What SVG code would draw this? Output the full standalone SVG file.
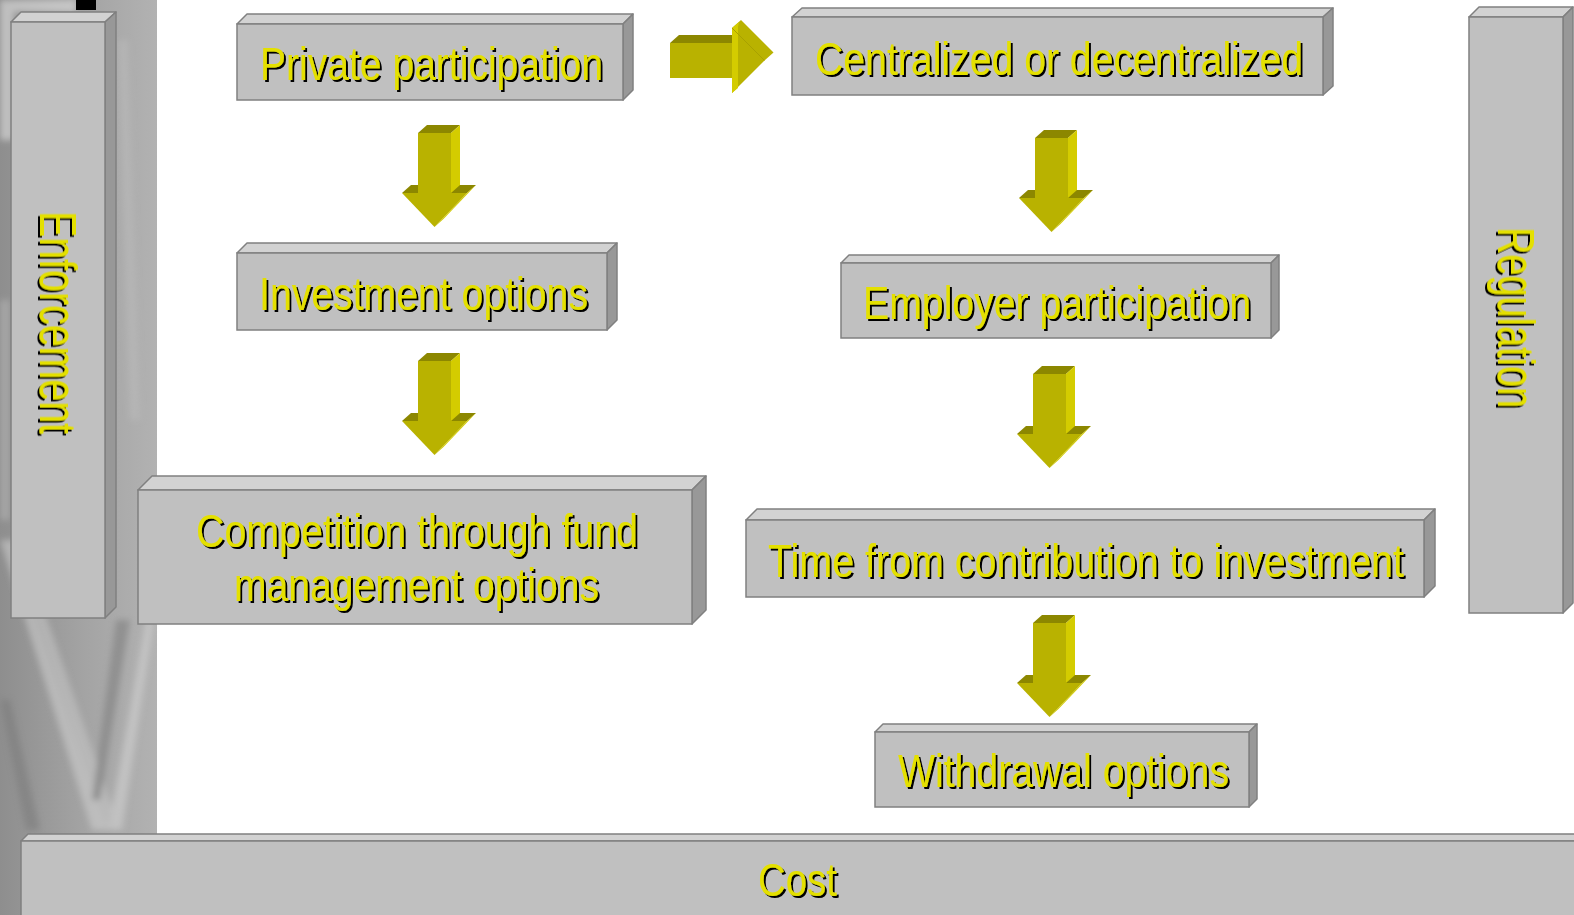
<svg xmlns="http://www.w3.org/2000/svg" width="1574" height="915" viewBox="0 0 1574 915">
  <style>
    .front { fill: #c0c0c0; stroke: #808080; stroke-width: 1.5; }
    .top { fill: #d2d2d2; stroke: #808080; stroke-width: 1.5; stroke-linejoin: round; }
    .side { fill: #989898; stroke: #808080; stroke-width: 1.5; stroke-linejoin: round; }
    .label { font-family: "Liberation Sans", Arial, sans-serif; font-size: 46px; fill: #e4e000; filter: url(#shadow); }
    .vlabel { font-family: "Liberation Sans", Arial, sans-serif; font-size: 51px; fill: #e4e000; filter: url(#shadow); }
    .a-front { fill: #b9b200; }
    .a-light { fill: #d4cc00; }
    .a-dark { fill: #8c8700; }
  </style>
  <defs>
    <filter id="shadow" x="-10%" y="-30%" width="120%" height="160%">
      <feDropShadow dx="2" dy="2" stdDeviation="0.5" flood-color="#000" flood-opacity="1"/>
    </filter>
    <filter id="soft" x="-20%" y="-20%" width="140%" height="140%">
      <feGaussianBlur stdDeviation="3"/>
    </filter>
    <linearGradient id="strip" x1="0" y1="0" x2="1" y2="0">
      <stop offset="0" stop-color="#8e8e8e"/>
      <stop offset="0.55" stop-color="#a4a4a4"/>
      <stop offset="1" stop-color="#b2b2b2"/>
    </linearGradient>
    <!-- down-pointing block arrow, origin at the shaft's top-left back corner -->
    <g id="down">
      <polygon class="a-dark" points="-16,68 -7,60 58,60 49,68"/>
      <polygon class="a-dark" points="0,8 9,0 42,0 33,8"/>
      <polygon class="a-light" points="33,8 42,0 42,60 33,68"/>
      <rect class="a-front" x="0" y="8" width="33" height="60"/>
      <polygon class="a-light" points="49,68 58,60 25.5,94 16.5,102"/>
      <polygon class="a-front" points="-16,68 49,68 16.5,102"/>
    </g>
  </defs>

  <rect width="1574" height="915" fill="#ffffff"/>

  <!-- textured side strip -->
  <g id="backdrop">
    <rect x="0" y="0" width="157" height="915" fill="url(#strip)"/>
    <g filter="url(#soft)" opacity="0.55">
      <polygon points="0,0 76,0 76,12 14,12 14,140 0,140" fill="#e6e6e6"/>
      <polygon points="0,540 18,540 112,830 92,830" fill="#d0d0d0"/>
      <polygon points="30,610 44,610 120,830 108,830" fill="#c8c8c8"/>
      <polygon points="157,560 157,600 122,830 108,830" fill="#d4d4d4"/>
      <polygon points="116,620 130,620 100,800 92,800" fill="#7c7c7c"/>
      <polygon points="0,700 10,700 40,830 26,830" fill="#7a7a7a"/>
      <polygon points="118,40 128,40 140,420 130,420" fill="#bcbcbc"/>
      <polygon points="0,300 10,300 10,520 0,520" fill="#b8b8b8"/>
    </g>
    <rect x="76" y="0" width="20" height="10" fill="#000000"/>
  </g>

  <!-- Enforcement -->
  <g id="enforcement">
    <polygon class="top" points="11,22 21,12 116,12 105,22"/>
    <polygon class="side" points="105,22 116,12 116,607 105,618"/>
    <rect class="front" x="11" y="22" width="94" height="596"/>
    <text class="vlabel" text-anchor="middle" textLength="223" lengthAdjust="spacingAndGlyphs" transform="translate(40,322.5) rotate(90)">Enforcement</text>
  </g>

  <!-- Regulation -->
  <g id="regulation">
    <polygon class="top" points="1469,17 1479,7 1573,7 1563,17"/>
    <polygon class="side" points="1563,17 1573,7 1573,603 1563,613"/>
    <rect class="front" x="1469" y="17" width="94" height="596"/>
    <text class="vlabel" text-anchor="middle" textLength="181" lengthAdjust="spacingAndGlyphs" transform="translate(1498,317.5) rotate(90)">Regulation</text>
  </g>

  <!-- Private participation -->
  <g id="private">
    <polygon class="top" points="237,24 247,14 633,14 623,24"/>
    <polygon class="side" points="623,24 633,14 633,90 623,100"/>
    <rect class="front" x="237" y="24" width="386" height="76"/>
    <text class="label" x="431.5" y="80" text-anchor="middle" textLength="343" lengthAdjust="spacingAndGlyphs">Private participation</text>
  </g>

  <!-- Investment options -->
  <g id="investment">
    <polygon class="top" points="237,253 247,243 617,243 607,253"/>
    <polygon class="side" points="607,253 617,243 617,320 607,330"/>
    <rect class="front" x="237" y="253" width="370" height="77"/>
    <text class="label" x="423.5" y="310" text-anchor="middle" textLength="329" lengthAdjust="spacingAndGlyphs">Investment options</text>
  </g>

  <!-- Competition through fund management options -->
  <g id="competition">
    <polygon class="top" points="138,490 152,476 706,476 692,490"/>
    <polygon class="side" points="692,490 706,476 706,610 692,624"/>
    <rect class="front" x="138" y="490" width="554" height="134"/>
    <text class="label" x="417" y="547" text-anchor="middle" textLength="442" lengthAdjust="spacingAndGlyphs">Competition through fund</text>
    <text class="label" x="416.5" y="601" text-anchor="middle" textLength="365" lengthAdjust="spacingAndGlyphs">management options</text>
  </g>

  <!-- Centralized or decentralized -->
  <g id="centralized">
    <polygon class="top" points="792,17 802,8 1333,8 1323,17"/>
    <polygon class="side" points="1323,17 1333,8 1333,86 1323,95"/>
    <rect class="front" x="792" y="17" width="531" height="78"/>
    <text class="label" x="1059" y="75" text-anchor="middle" textLength="488" lengthAdjust="spacingAndGlyphs">Centralized or decentralized</text>
  </g>

  <!-- Employer participation -->
  <g id="employer">
    <polygon class="top" points="841,263 849,255 1279,255 1271,263"/>
    <polygon class="side" points="1271,263 1279,255 1279,330 1271,338"/>
    <rect class="front" x="841" y="263" width="430" height="75"/>
    <text class="label" x="1057" y="319" text-anchor="middle" textLength="388" lengthAdjust="spacingAndGlyphs">Employer participation</text>
  </g>

  <!-- Time from contribution to investment -->
  <g id="time">
    <polygon class="top" points="746,520 757,509 1435,509 1424,520"/>
    <polygon class="side" points="1424,520 1435,509 1435,586 1424,597"/>
    <rect class="front" x="746" y="520" width="678" height="77"/>
    <text class="label" x="1086" y="577" text-anchor="middle" textLength="636" lengthAdjust="spacingAndGlyphs">Time from contribution to investment</text>
  </g>

  <!-- Withdrawal options -->
  <g id="withdrawal">
    <polygon class="top" points="875,732 883,724 1257,724 1249,732"/>
    <polygon class="side" points="1249,732 1257,724 1257,799 1249,807"/>
    <rect class="front" x="875" y="732" width="374" height="75"/>
    <text class="label" x="1063.5" y="787" text-anchor="middle" textLength="331" lengthAdjust="spacingAndGlyphs">Withdrawal options</text>
  </g>

  <!-- Cost -->
  <g id="cost">
    <polygon class="top" points="21,841 28,834 1580,834 1580,841"/>
    <rect class="front" x="21" y="841" width="1560" height="80"/>
    <text class="label" x="797.5" y="896" text-anchor="middle" textLength="79" lengthAdjust="spacingAndGlyphs">Cost</text>
  </g>

  <!-- connectors: block arrows -->
  <g id="connectors">
    <g id="arrow-right">
      <polygon class="a-dark" points="670,43 679,35 741,35 732,43"/>
      <rect class="a-front" x="670" y="43" width="62" height="35"/>
      <polygon class="a-front" points="732,28 741,20 773.5,52.5 764.5,60.5"/>
      <polygon class="a-front" points="732,28 732,93 764.5,60.5"/>
      <polygon class="a-light" points="732,28 739,22 738,27 738,88 732,93"/>
      <line x1="732" y1="28" x2="764.5" y2="60.5" stroke="#a8a100" stroke-width="1"/>
    </g>
    <use href="#down" transform="translate(418,125)"/>
    <use href="#down" transform="translate(418,353)"/>
    <use href="#down" transform="translate(1035,130)"/>
    <use href="#down" transform="translate(1033,366)"/>
    <use href="#down" transform="translate(1033,615)"/>
  </g>
</svg>
